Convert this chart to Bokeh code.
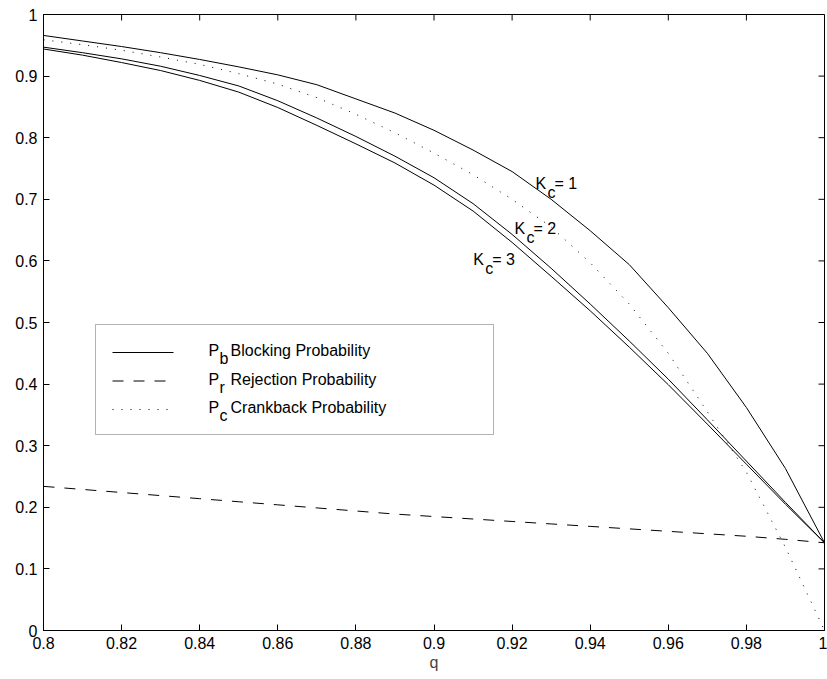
from bokeh.plotting import figure
from bokeh.models import FixedTicker, Range1d, BoxAnnotation
from bokeh.core.properties import value
from bokeh.embed import file_html
from bokeh.resources import INLINE

# ---- data ----
q = [0.80, 0.81, 0.82, 0.83, 0.84, 0.85, 0.86, 0.87, 0.88, 0.89, 0.90,
     0.91, 0.92, 0.93, 0.94, 0.95, 0.96, 0.97, 0.98, 0.99, 1.00]
pb_k1 = [0.966, 0.957, 0.948, 0.938, 0.927, 0.915, 0.902, 0.886, 0.863, 0.840, 0.812,
         0.780, 0.745, 0.700, 0.649, 0.594, 0.524, 0.450, 0.362, 0.263, 0.1424]
pb_k2 = [0.947, 0.938, 0.928, 0.916, 0.901, 0.884, 0.860, 0.832, 0.802, 0.770, 0.735,
         0.693, 0.643, 0.588, 0.530, 0.470, 0.408, 0.342, 0.275, 0.208, 0.1424]
pb_k3 = [0.944, 0.934, 0.922, 0.909, 0.893, 0.874, 0.849, 0.820, 0.790, 0.759, 0.723,
         0.681, 0.630, 0.575, 0.519, 0.460, 0.399, 0.335, 0.270, 0.205, 0.1424]
pr = [0.234, 0.229, 0.224, 0.219, 0.214, 0.209, 0.204, 0.199, 0.194, 0.189, 0.185,
      0.181, 0.177, 0.173, 0.169, 0.165, 0.161, 0.157, 0.153, 0.148, 0.1424]
pc = [0.959, 0.951, 0.942, 0.931, 0.919, 0.904, 0.887, 0.865, 0.838, 0.808, 0.775,
      0.740, 0.700, 0.655, 0.597, 0.530, 0.450, 0.355, 0.257, 0.135, 0.0]

x_ticks = [0.8, 0.82, 0.84, 0.86, 0.88, 0.9, 0.92, 0.94, 0.96, 0.98, 1.0]
x_tick_labels = ["0.8", "0.82", "0.84", "0.86", "0.88", "0.9", "0.92", "0.94", "0.96", "0.98", "1"]
y_ticks = [0.0, 0.1, 0.2, 0.3, 0.4, 0.5, 0.6, 0.7, 0.8, 0.9, 1.0]
y_tick_labels = ["0", "0.1", "0.2", "0.3", "0.4", "0.5", "0.6", "0.7", "0.8", "0.9", "1"]

kc_labels = ["1", "2", "3"]
legend_subs = ["b", "r", "c"]
legend_texts = ["Blocking Probability", "Rejection Probability", "Crankback Probability"]

FONT = "Liberation Sans"
FS = "16px"

# layout constants (pixels of the 827x679 canvas)
L, R, T, B = 43, 824, 14, 630
X0, X1, Y0, Y1 = 0.8, 1.0, 0.0, 1.0
DX = (X1 - X0) / (R - L)   # data per pixel, x
DY = (Y1 - Y0) / (B - T)   # data per pixel, y
TICK = 6


def fx(px):
    return X0 + (px - L) * DX


def fy(py):
    return Y0 + (B - py) * DY


p = figure(width=827, height=679, x_range=Range1d(X0, X1), y_range=Range1d(Y0, Y1),
           output_backend="svg", toolbar_location=None,
           min_border_left=L, min_border_right=827 - R, min_border_top=T,
           min_border_bottom=679 - B)
p.background_fill_color = "white"
p.border_fill_color = "white"
p.outline_line_color = "black"
p.outline_line_width = 1
p.xgrid.visible = False
p.ygrid.visible = False

for ax in (p.xaxis[0], p.yaxis[0]):
    ax.major_tick_in = TICK
    ax.major_tick_out = 0
    ax.minor_tick_line_color = None
    ax.axis_line_color = "black"
    ax.major_tick_line_color = "black"
    ax.major_label_text_font = FONT
    ax.major_label_text_font_size = FS
    ax.major_label_text_color = "black"

p.xaxis.ticker = FixedTicker(ticks=x_ticks)
p.xaxis.major_label_overrides = {t: s for t, s in zip(x_ticks, x_tick_labels)}
p.yaxis.ticker = FixedTicker(ticks=y_ticks)
p.yaxis.major_label_overrides = {t: s for t, s in zip(y_ticks, y_tick_labels)}
p.xaxis.major_label_standoff = 6
p.yaxis.major_label_standoff = 6
p.xaxis.axis_label = "q"
p.xaxis.axis_label_text_font = FONT
p.xaxis.axis_label_text_font_size = FS
p.xaxis.axis_label_text_font_style = "normal"
p.xaxis.axis_label_standoff = 2

# inward ticks on the top and right edges (box on)
p.segment(x0=x_ticks, x1=x_ticks, y0=[Y1] * len(x_ticks), y1=[Y1 - TICK * DY] * len(x_ticks),
          line_color="black", line_width=1)
p.segment(x0=[X1] * len(y_ticks), x1=[X1 - TICK * DX] * len(y_ticks), y0=y_ticks, y1=y_ticks,
          line_color="black", line_width=1)

# ---- curves ----
for ys in (pb_k1, pb_k2, pb_k3):
    p.line(q, ys, line_color="black", line_width=1)
p.line(q, pr, line_color="black", line_width=1, line_dash="11 10")
p.line(q, pc, line_color="black", line_width=1, line_dash="1 8")

# ---- K_c labels ----
kc_anchor_px = [(535, 182.7), (514, 227.7), (472.7, 259.3)]
kx = [fx(a) for a, b in kc_anchor_px]
ky = [fy(b) for a, b in kc_anchor_px]
tkw = dict(text_font=value(FONT), text_font_size=value(FS), text_color="black",
           text_baseline="alphabetic", text_align="left")
p.text(x=kx, y=ky, text=["K"] * 3, **tkw)
p.text(x=kx, y=ky, text=["c"] * 3, x_offset=12, y_offset=9, **tkw)
p.text(x=kx, y=ky, text=["= " + k for k in kc_labels], x_offset=19, **tkw)

# ---- legend ----
box = BoxAnnotation(left=fx(95), right=fx(493), top=fy(324), bottom=fy(434),
                    fill_color="white", fill_alpha=1.0, line_color="black",
                    line_width=1, level="underlay")
p.add_layout(box)
line_rows_px = [352, 380.5, 409]
dashes = ["solid", "11 10", "1 8"]
for yy, d in zip(line_rows_px, dashes):
    p.line([fx(112), fx(173)], [fy(yy), fy(yy)], line_color="black", line_width=1, line_dash=d)
text_rows_px = [350, 378.5, 407]
lx = [fx(208)] * 3
ly = [fy(v) for v in text_rows_px]
p.text(x=lx, y=ly, text=["P"] * 3, **tkw)
p.text(x=lx, y=ly, text=legend_subs, x_offset=11, y_offset=8, **tkw)
p.text(x=lx, y=ly, text=legend_texts, x_offset=22, **tkw)

open("out.html", "w").write(file_html(p, INLINE))
